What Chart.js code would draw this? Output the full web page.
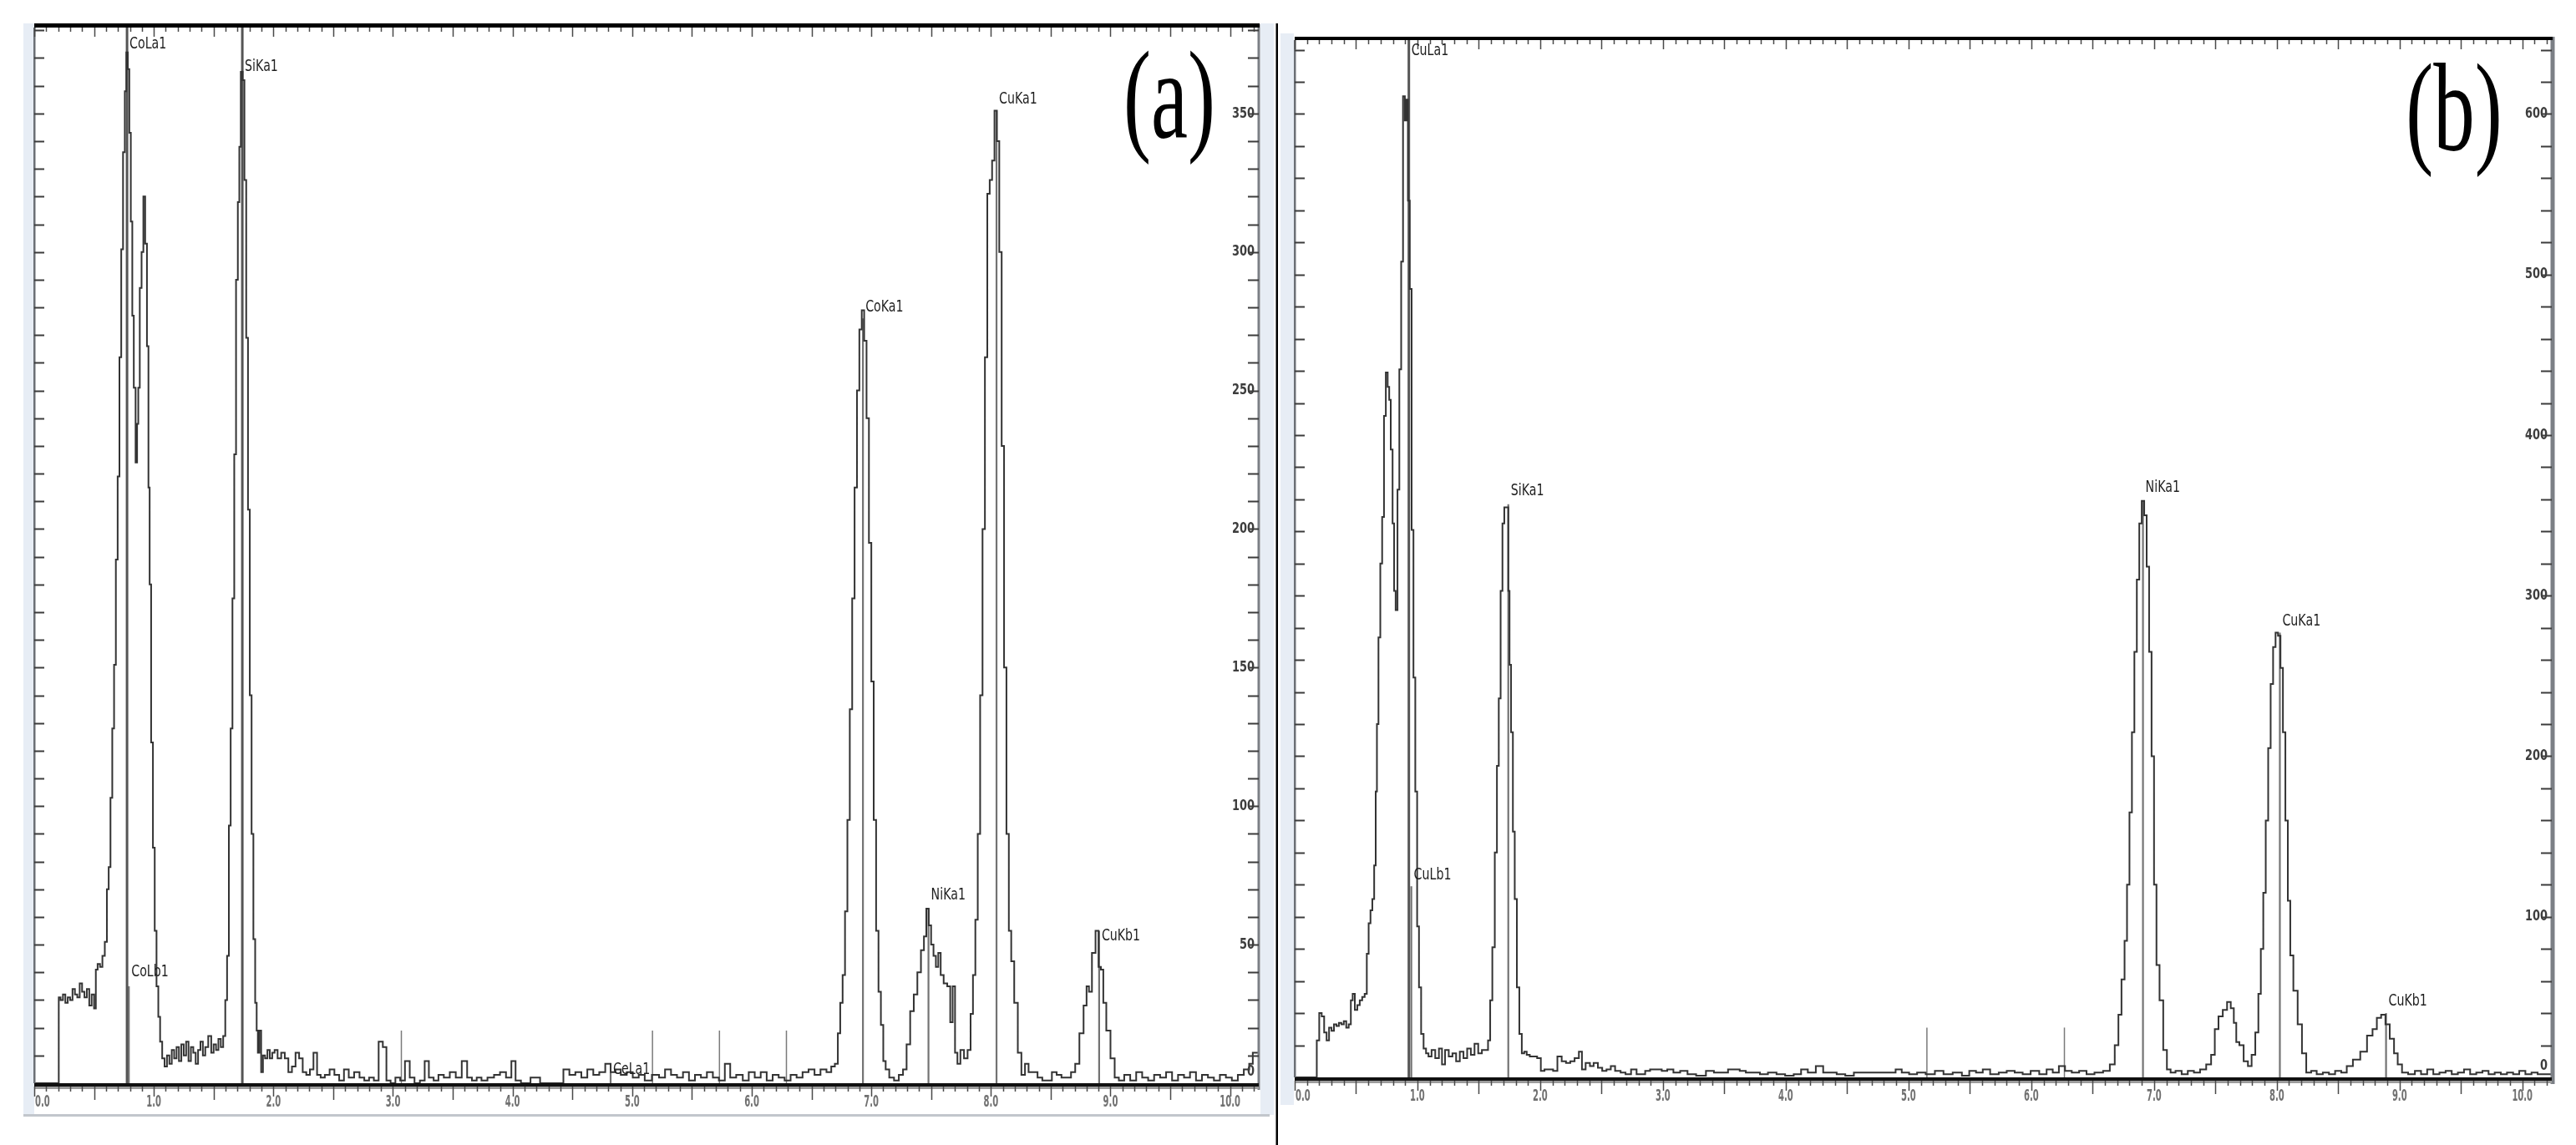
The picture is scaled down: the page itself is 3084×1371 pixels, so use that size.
<!DOCTYPE html>
<html>
<head>
<meta charset="utf-8">
<script src="https://cdn.jsdelivr.net/npm/chart.js@4.4.1/dist/chart.umd.min.js"></script>
<style>
html,body{margin:0;padding:0;background:#fff;width:3084px;height:1371px;overflow:hidden;}
#wa{position:absolute;left:0;top:0;width:1530px;height:1371px;}
#wb{position:absolute;left:1531px;top:0;width:1553px;height:1371px;}
</style>
</head>
<body>
<div id="wa"><canvas id="ca"></canvas></div>
<div id="wb"><canvas id="cb"></canvas></div>
<script>
// ---------- DATA: panel (a) ----------
const energyA = [0.00,0.20,0.21,0.23,0.25,0.27,0.29,0.31,0.33,0.35,0.37,0.39,0.41,0.43,0.45,0.47,0.49,0.51,0.52,0.54,0.56,0.58,0.60,0.615,0.63,0.645,0.66,0.675,0.69,0.705,0.72,0.735,0.75,0.765,0.775,0.79,0.80,0.815,0.825,0.84,0.855,0.865,0.875,0.89,0.905,0.92,0.935,0.95,0.96,0.97,0.985,1.00,1.015,1.03,1.045,1.06,1.08,1.10,1.12,1.14,1.16,1.18,1.20,1.22,1.24,1.26,1.28,1.30,1.32,1.34,1.36,1.38,1.40,1.42,1.44,1.47,1.49,1.51,1.53,1.55,1.57,1.59,1.605,1.62,1.635,1.65,1.665,1.68,1.695,1.71,1.72,1.735,1.75,1.765,1.78,1.795,1.81,1.825,1.84,1.855,1.865,1.875,1.89,1.905,1.92,1.94,1.96,1.98,2.00,2.02,2.05,2.08,2.11,2.14,2.17,2.20,2.23,2.26,2.29,2.32,2.35,2.38,2.41,2.45,2.49,2.53,2.57,2.61,2.65,2.70,2.74,2.78,2.82,2.86,2.90,2.93,2.96,3.00,3.04,3.08,3.12,3.16,3.20,3.25,3.28,3.32,3.36,3.40,3.45,3.50,3.55,3.60,3.64,3.68,3.72,3.76,3.82,3.87,3.92,3.97,4.01,4.04,4.10,4.20,4.26,4.40,4.45,4.50,4.55,4.60,4.65,4.70,4.75,4.80,4.84,4.88,4.93,4.98,5.03,5.08,5.13,5.20,5.25,5.30,5.35,5.40,5.45,5.50,5.55,5.60,5.65,5.70,5.75,5.80,5.84,5.90,5.95,6.00,6.05,6.10,6.15,6.20,6.25,6.30,6.35,6.40,6.45,6.50,6.55,6.60,6.65,6.68,6.71,6.73,6.75,6.77,6.79,6.81,6.83,6.85,6.87,6.89,6.91,6.93,6.95,6.97,6.99,7.01,7.03,7.05,7.07,7.09,7.11,7.13,7.17,7.21,7.25,7.28,7.31,7.34,7.37,7.40,7.43,7.45,7.47,7.49,7.51,7.53,7.55,7.57,7.59,7.62,7.65,7.67,7.69,7.71,7.73,7.76,7.79,7.82,7.84,7.86,7.88,7.90,7.92,7.94,7.96,7.98,8.00,8.02,8.04,8.06,8.08,8.10,8.12,8.14,8.16,8.18,8.21,8.24,8.27,8.30,8.33,8.37,8.41,8.45,8.49,8.53,8.57,8.61,8.65,8.69,8.72,8.76,8.79,8.81,8.83,8.86,8.89,8.91,8.93,8.95,8.98,9.02,9.05,9.09,9.14,9.19,9.24,9.29,9.34,9.39,9.44,9.49,9.54,9.59,9.64,9.69,9.74,9.79,9.84,9.89,9.94,9.99,10.04,10.09,10.14,10.18,10.20,10.24];
const countsA = [0,0,31,30,32,29,31,30,34,32,31,36,33,31,34,28,32,27,41,43,42,46,51,70,78,103,128,151,189,219,262,301,336,358,372,366,343,311,277,251,224,238,251,287,300,320,303,266,215,180,123,85,55,35,24,15,9,6,10,7,12,9,13,8,14,10,15,8,13,11,7,12,15,10,13,17,11,14,12,16,13,17,30,46,93,128,175,227,290,318,338,365,362,326,269,207,140,90,52,29,19,11,19,4,10,9,12,9,11,12,9,11,9,4,6,11,9,4,3,5,11,3,2,3,5,3,1,5,2,4,2,1,2,1,15,13,1,0,2,1,8,2,0,1,8,2,1,3,2,4,2,8,2,1,2,1,2,3,4,2,8,1,0,2,0,0,5,3,4,2,5,3,4,7,4,5,3,4,2,3,1,3,2,5,3,2,4,1,3,2,4,2,1,7,2,3,1,4,2,4,1,3,2,1,3,2,4,5,3,5,4,6,7,18,29,39,62,95,135,175,215,250,272,279,268,240,195,145,95,55,33,21,8,5,2,1,3,5,14,26,32,40,48,53,63,57,50,46,42,47,39,36,35,22,35,11,7,12,9,12,25,39,59,90,140,200,262,321,326,333,351,340,300,230,150,90,55,44,29,11,3,7,4,4,2,1,1,4,3,2,2,4,7,18,28,35,33,47,55,42,41,29,19,9,2,1,3,1,4,2,1,3,2,4,1,3,2,4,1,3,2,1,3,2,1,3,5,7,11,11];
const markerNamesA = ['CoLa1','CoLb1','SiKa1','CeLa1','CoKa1','NiKa1','CuKa1','CuKb1'];
const markerEnergyA = [0.776,0.791,1.740,4.820,6.930,7.478,8.047,8.905];
const markerTopA = [381,35,381,4,276,63,351,55];
const markerLabelAtA = [372,37,364,2,277,65,352,50];
const thinEnergyA = [3.07,5.17,5.73,6.29];
const thinTopA = [19,19,19,19];
const yLabelsA = [0,50,100,150,200,250,300,350];

// ---------- DATA: panel (b) ----------
const energyB = [0.00,0.17,0.19,0.21,0.23,0.25,0.27,0.29,0.31,0.33,0.35,0.37,0.39,0.41,0.43,0.45,0.465,0.48,0.50,0.52,0.54,0.56,0.58,0.595,0.61,0.625,0.64,0.655,0.665,0.675,0.69,0.705,0.72,0.735,0.75,0.765,0.775,0.79,0.805,0.815,0.83,0.845,0.86,0.875,0.89,0.905,0.915,0.93,0.945,0.96,0.975,0.99,1.005,1.02,1.04,1.06,1.08,1.10,1.13,1.16,1.19,1.21,1.24,1.27,1.30,1.33,1.36,1.39,1.42,1.45,1.48,1.51,1.54,1.565,1.585,1.60,1.62,1.64,1.655,1.67,1.685,1.70,1.715,1.735,1.745,1.755,1.77,1.785,1.80,1.82,1.84,1.86,1.88,1.90,1.93,1.96,1.99,2.02,2.05,2.09,2.12,2.16,2.19,2.23,2.26,2.30,2.33,2.35,2.39,2.42,2.45,2.49,2.52,2.56,2.59,2.63,2.68,2.71,2.77,2.80,2.84,2.87,2.92,2.97,3.01,3.06,3.11,3.17,3.23,3.31,3.39,3.44,3.51,3.55,3.60,3.65,3.70,3.76,3.82,3.89,3.96,4.03,4.10,4.15,4.21,4.28,4.33,4.38,4.45,4.52,4.59,4.66,4.73,4.80,4.87,4.92,4.97,5.04,5.10,5.18,5.25,5.32,5.40,5.47,5.52,5.58,5.63,5.70,5.77,5.83,5.90,5.96,6.03,6.10,6.15,6.20,6.25,6.30,6.36,6.42,6.48,6.55,6.62,6.66,6.70,6.72,6.75,6.77,6.79,6.81,6.83,6.85,6.87,6.89,6.91,6.93,6.95,6.97,6.99,7.01,7.03,7.06,7.09,7.12,7.15,7.20,7.25,7.30,7.35,7.40,7.45,7.48,7.51,7.54,7.58,7.61,7.64,7.66,7.68,7.71,7.75,7.78,7.81,7.84,7.86,7.88,7.90,7.92,7.94,7.96,7.98,8.00,8.02,8.04,8.06,8.08,8.10,8.12,8.15,8.19,8.22,8.26,8.30,8.35,8.40,8.45,8.50,8.55,8.59,8.65,8.71,8.76,8.80,8.83,8.87,8.90,8.94,8.97,9.00,9.04,9.10,9.15,9.20,9.25,9.30,9.35,9.40,9.45,9.50,9.55,9.60,9.65,9.70,9.75,9.80,9.85,9.90,9.95,10.00,10.05,10.10,10.15,10.24];
const countsB = [0,0,23,40,38,28,23,31,29,33,32,34,33,35,31,33,48,52,42,45,48,50,52,77,96,104,111,132,178,220,274,320,349,412,439,430,422,391,345,303,291,366,441,508,611,596,609,546,491,341,249,178,94,56,27,18,15,13,17,12,18,8,17,13,15,10,16,12,18,14,21,15,17,17,23,48,81,140,194,236,303,345,355,355,303,257,215,153,111,56,27,15,16,14,13,13,12,4,5,5,4,13,10,9,10,12,16,5,9,7,9,6,4,5,7,4,3,2,5,2,2,4,5,5,4,5,3,4,2,1,4,3,3,5,5,4,3,3,2,3,2,1,2,5,3,7,3,3,2,1,3,3,3,3,3,5,3,2,3,2,4,2,3,1,4,3,5,2,3,4,3,2,4,2,5,3,7,4,3,4,2,3,4,8,20,39,61,85,120,165,215,265,310,345,359,350,318,265,200,120,70,48,17,5,3,4,2,4,3,5,8,14,30,38,42,47,43,34,22,20,10,7,14,28,52,80,115,160,205,245,268,277,275,255,215,160,110,76,54,33,15,3,4,2,3,2,4,3,7,11,16,26,30,37,39,33,24,15,8,3,2,4,2,5,2,3,4,2,3,5,2,3,4,2,3,2,3,2,4,2,3,2,2];
const markerNamesB = ['CuLa1','CuLb1','SiKa1','NiKa1','CuKa1','CuKb1'];
const markerEnergyB = [0.930,0.950,1.740,6.910,8.025,8.890];
const markerTopB = [646,119,357,359,277,40];
const markerLabelAtB = [634,121,360,362,279,42];
const thinEnergyB = [5.15,6.27];
const thinTopB = [31,31];
const yLabelsB = [0,100,200,300,400,500,600];

const xTickLabels = ['0.0','1.0','2.0','3.0','4.0','5.0','6.0','7.0','8.0','9.0','10.0'];
const xTickValues = [0,1,2,3,4,5,6,7,8,9,10];

// ---------- helpers ----------
function condText(ctx, text, x, y, sx, align, baseline) {
  ctx.save();
  ctx.translate(x, y);
  ctx.scale(sx, 1);
  ctx.textAlign = align;
  ctx.textBaseline = baseline;
  ctx.fillText(text, 0, 0);
  ctx.restore();
}

function buildDatasets(E, C, mE, mTop, tE, tTop, yMax) {
  const ds = [{
    data: E.map((e, i) => ({x: e, y: C[i]})),
    borderColor: '#333333', borderWidth: 2, pointRadius: 0, stepped: 'middle', order: 0
  }];
  mE.forEach((e, i) => {
    const full = mTop[i] >= yMax;
    ds.push({
      data: [{x: e, y: 0}, {x: e, y: mTop[i]}],
      borderColor: full ? '#555555' : '#737373', borderWidth: full ? 3 : 2.2, pointRadius: 0, order: 1
    });
  });
  tE.forEach((e, i) => ds.push({
    data: [{x: e, y: 0}, {x: e, y: tTop[i]}],
    borderColor: '#7a7a7a', borderWidth: 1.5, pointRadius: 0, order: 1
  }));
  return ds;
}

const framePlugin = {
  id: 'frame',
  beforeDraw(chart, args, o) {
    const ctx = chart.ctx;
    ctx.save();
    ctx.fillStyle = '#ffffff';
    ctx.fillRect(0, 0, chart.width, chart.height);
    ctx.fillStyle = '#e7edf5';
    o.strips.forEach(s => ctx.fillRect(s[0], s[1], s[2], s[3]));
    if (o.bottomLine) {
      ctx.fillStyle = '#c2c6cc';
      ctx.fillRect(o.bottomLine[0], o.bottomLine[1], o.bottomLine[2], 3);
    }
    ctx.restore();
  },
  afterDatasetsDraw(chart, args, o) {
    const ctx = chart.ctx, ca = chart.chartArea;
    const xs = chart.scales.x, ys = chart.scales.y;
    const w = ca.right - ca.left;
    ctx.save();
    ctx.fillStyle = '#6c7076';
    ctx.fillRect(ca.left - 1, ca.top, 2.5, ca.bottom - ca.top);
    ctx.fillStyle = '#7b7f85';
    ctx.fillRect(ca.right - 1.5, ca.top - 4, o.rightAxisW, ca.bottom - ca.top + 12);
    ctx.fillStyle = '#000';
    ctx.fillRect(ca.left, ca.top - o.topBarH, w + 1, o.topBarH);
    ctx.fillStyle = '#111';
    ctx.fillRect(ca.left, ca.bottom, w, 4);
    ctx.fillStyle = '#9c9c9c';
    ctx.fillRect(ca.left, ca.bottom + 4, w, 3);
    ctx.strokeStyle = '#4a4a4a';
    ctx.lineWidth = 1.5;
    for (let k = 0; k <= Math.floor(xs.max * 10 + 1e-6); k++) {
      const v = k / 10;
      const px = Math.round(xs.getPixelForValue(v)) + 0.5;
      const half = (k % 5 === 0);
      const whole = (k % 10 === 0);
      ctx.beginPath();
      ctx.moveTo(px, ca.top);
      ctx.lineTo(px, ca.top + (half ? 11 : 5));
      ctx.moveTo(px, ca.bottom + 4);
      ctx.lineTo(px, ca.bottom + 4 + (whole ? 12 : (half ? 16 : 6)));
      ctx.stroke();
    }
    ctx.strokeStyle = '#3c3c3c';
    ctx.lineWidth = 2;
    for (let v = o.yMinor; v <= ys.max; v += o.yMinor) {
      const py = Math.round(ys.getPixelForValue(v)) + 0.5;
      ctx.beginPath();
      ctx.moveTo(ca.left, py); ctx.lineTo(ca.left + 12, py);
      ctx.moveTo(ca.right, py); ctx.lineTo(ca.right - 13, py);
      ctx.stroke();
    }
    ctx.fillStyle = '#3d3d3d';
    ctx.font = 'bold 18px "DejaVu Sans"';
    o.yLabels.forEach(v => {
      const py = ys.getPixelForValue(v);
      if (v === 0) condText(ctx, String(v), ca.right - 5, py - 5, 0.72, 'right', 'bottom');
      else condText(ctx, String(v), ca.right - 5, py, 0.72, 'right', 'middle');
    });
    ctx.fillStyle = '#707070';
    ctx.font = 'bold 20px "DejaVu Sans"';
    xTickValues.forEach((v, i) => {
      const px = xs.getPixelForValue(v);
      if (i === 0) condText(ctx, xTickLabels[i], px + 1, ca.bottom + 23, 0.5, 'left', 'middle');
      else condText(ctx, xTickLabels[i], px, ca.bottom + 23, 0.5, 'center', 'middle');
    });
    ctx.fillStyle = '#1e1e1e';
    ctx.font = '20px "DejaVu Sans"';
    o.mNames.forEach((n, i) => {
      const px = xs.getPixelForValue(o.mE[i]) + 3;
      const py = ys.getPixelForValue(o.mLab[i]);
      condText(ctx, n, px, py, 0.71, 'left', 'bottom');
    });
    ctx.fillStyle = '#000';
    ctx.font = '150px "Liberation Serif"';
    condText(ctx, o.letter, ca.right - o.letterDX, ca.top + o.letterDY, 0.66, 'center', 'alphabetic');
    if (o.divider) {
      ctx.fillStyle = '#000';
      ctx.fillRect(o.divider[0], o.divider[1], 2.5, chart.height - o.divider[1]);
    }
    ctx.restore();
  }
};

function makeChart(id, cfg) {
  return new Chart(document.getElementById(id), {
    type: 'line',
    data: {datasets: cfg.datasets},
    options: {
      responsive: true, maintainAspectRatio: false, animation: false, devicePixelRatio: 1,
      events: [],
      layout: {padding: cfg.padding},
      scales: {
        x: {type: 'linear', min: 0, max: 10.24, display: false},
        y: {type: 'linear', min: 0, max: cfg.yMax, display: false}
      },
      plugins: {legend: {display: false}, tooltip: {enabled: false}, frame: cfg.frame}
    },
    plugins: [framePlugin]
  });
}

makeChart('ca', {
  datasets: buildDatasets(energyA, countsA, markerEnergyA, markerTopA, thinEnergyA, thinTopA, 381),
  padding: {left: 41, top: 33, right: 23, bottom: 74},
  yMax: 381,
  frame: {
    strips: [[28, 28, 13, 1307], [1509, 28, 16, 1307]],
    bottomLine: [28, 1334, 1492],
    rightAxisW: 3, topBarH: 5, yMinor: 10, yLabels: yLabelsA,
    mNames: markerNamesA, mE: markerEnergyA, mLab: markerLabelAtA,
    letter: '(a)', letterDX: 107, letterDY: 132,
    divider: [1527.5, 28]
  }
});

makeChart('cb', {
  datasets: buildDatasets(energyB, countsB, markerEnergyB, markerTopB, thinEnergyB, thinTopB, 646),
  padding: {left: 19, top: 48, right: 29, bottom: 81},
  yMax: 646,
  frame: {
    strips: [[2, 40, 16, 1283]],
    bottomLine: null,
    rightAxisW: 5, topBarH: 4, yMinor: 20, yLabels: yLabelsB,
    mNames: markerNamesB, mE: markerEnergyB, mLab: markerLabelAtB,
    letter: '(b)', letterDX: 117, letterDY: 132,
    divider: null
  }
});
</script>
</body>
</html>
